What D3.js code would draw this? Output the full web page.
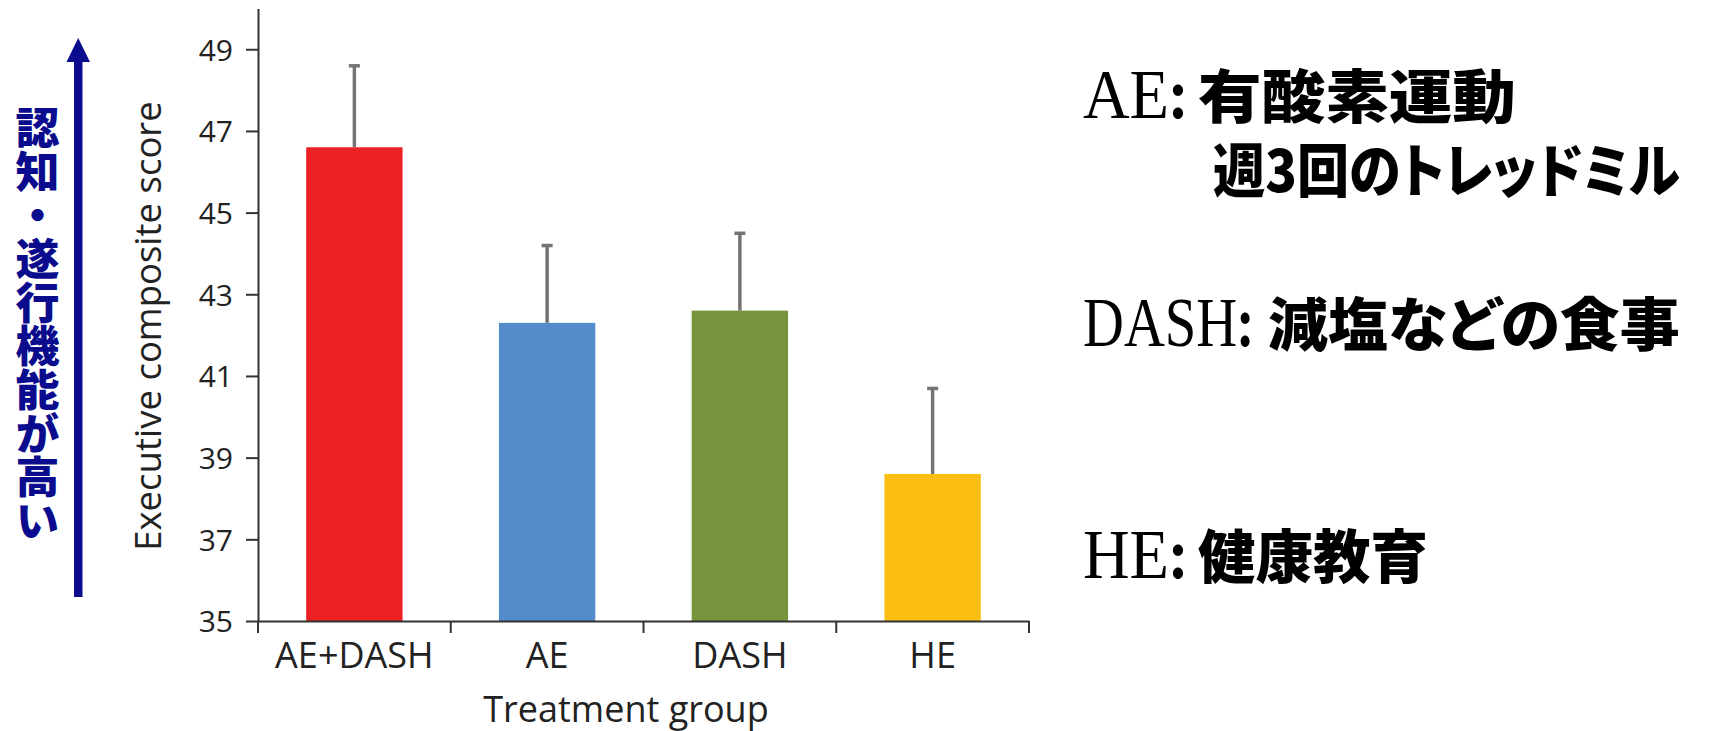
<!DOCTYPE html>
<html>
<head>
<meta charset="utf-8">
<script src="https://cdn.jsdelivr.net/npm/d3@7"></script>
<style>
  html, body { margin: 0; padding: 0; background: #fff; }
  svg { display: block; }
</style>
</head>
<body>
<svg id="chart" width="1716" height="731"></svg>
<script>
// ---- data ----
const categories = ["AE+DASH", "AE", "DASH", "HE"];
const meanScores = [46.6, 42.3, 42.6, 38.6];
const upperErrors = [48.6, 44.2, 44.5, 40.7];
const barColors = ["#EC2126", "#568BCB", "#78943C", "#FBBE13"];
const yTickValues = [35, 37, 39, 41, 43, 45, 47, 49];
const yDomain = [35, 50];
const yTitle = "Executive composite score";
const xTitle = "Treatment group";
const sideLabel = "認知・遂行機能が高い";
const noteLatin = ["AE", "DASH", "HE"];
const noteJapanese = ["有酸素運動", "減塩などの食事", "健康教育"];
const noteSecondLine = "週3回のトレッドミル";

// ---- layout ----
const svg = d3.select("#chart");
const plotLeft = 258, plotRight = 1029, plotBottom = 621, unitPx = 40.84;
const axisFont = "'Open Sans', 'Noto Sans', sans-serif";
const jaFont = "'Noto Sans CJK JP', sans-serif";
const latinFont = "'Liberation Serif', 'DejaVu Serif', serif";
const navy = "#0b0b8e";

const x = d3.scaleBand().domain(categories).range([plotLeft, plotRight])
  .paddingInner(0.5).paddingOuter(0.25);
const y = d3.scaleLinear().domain(yDomain)
  .range([plotBottom, plotBottom - (yDomain[1] - yDomain[0]) * unitPx]);

const rows = categories.map((c, i) => ({ c, m: meanScores[i], e: upperErrors[i], col: barColors[i] }));

// bars
svg.append("g").selectAll("rect").data(rows).join("rect")
  .attr("x", d => x(d.c)).attr("width", x.bandwidth())
  .attr("y", d => y(d.m)).attr("height", d => y(yDomain[0]) - y(d.m))
  .attr("fill", d => d.col);

// error bars (upper only)
const eg = svg.append("g");
eg.selectAll("line").data(rows).join("line")
  .attr("x1", d => x(d.c) + x.bandwidth() / 2).attr("x2", d => x(d.c) + x.bandwidth() / 2)
  .attr("y1", d => y(d.m)).attr("y2", d => y(d.e))
  .attr("stroke", "#747474").attr("stroke-width", 3.5);
eg.selectAll("rect").data(rows).join("rect")
  .attr("x", d => x(d.c) + x.bandwidth() / 2 - 5.5).attr("width", 11)
  .attr("y", d => y(d.e) - 1.5).attr("height", 3.5)
  .attr("fill", "#747474");

// y axis
const yAxis = svg.append("g").attr("transform", `translate(${plotLeft},0)`)
  .call(d3.axisLeft(y).tickValues(yTickValues).tickSize(12).tickSizeOuter(0).tickPadding(13));
yAxis.select(".domain").attr("stroke", "#333").attr("stroke-width", 2);
yAxis.selectAll(".tick line").attr("stroke", "#333").attr("stroke-width", 2);
yAxis.selectAll(".tick text").attr("font-family", axisFont).attr("font-size", 30)
  .attr("fill", "#222").attr("dy", "0.36em");

// x axis: labels at band centres
const xAxis = svg.append("g").attr("transform", `translate(0,${plotBottom})`)
  .call(d3.axisBottom(x).tickSize(0).tickPadding(21).tickSizeOuter(0));
xAxis.select(".domain").attr("stroke", "#333").attr("stroke-width", 2);
xAxis.selectAll(".tick text").attr("font-family", axisFont).attr("font-size", 36).attr("fill", "#222");
// tick marks at band boundaries
const bounds = d3.range(categories.length + 1).map(i => plotLeft + i * x.step());
xAxis.append("g").selectAll("line").data(bounds).join("line")
  .attr("x1", d => d).attr("x2", d => d).attr("y1", 0).attr("y2", 12)
  .attr("stroke", "#333").attr("stroke-width", 2);

// axis titles
svg.append("text").attr("transform", `translate(161,326) rotate(-90)`)
  .attr("text-anchor", "middle").attr("font-family", axisFont).attr("font-size", 36.5)
  .attr("fill", "#222").text(yTitle);
svg.append("text").attr("x", 626).attr("y", 722)
  .attr("text-anchor", "middle").attr("font-family", axisFont).attr("font-size", 36)
  .attr("fill", "#222").text(xTitle);

// left arrow + vertical label
svg.append("rect").attr("x", 74).attr("y", 60).attr("width", 8.5).attr("height", 537).attr("fill", navy);
svg.append("path").attr("d", "M78.2,38 L90,62 L66.5,62 Z").attr("fill", navy);
svg.append("text")
  .attr("x", 37.5).attr("y", 106)
  .style("writing-mode", "vertical-rl")
  .attr("font-family", jaFont).attr("font-weight", 900).attr("font-size", 44)
  .attr("textLength", 436).attr("lengthAdjust", "spacingAndGlyphs")
  .attr("fill", navy).text(sideLabel);

// right-side notes: each piece is fitted horizontally to its width via a scale transform
function fitText(sel, x0, base, width) {
  const natural = sel.node().getComputedTextLength();
  sel.attr("transform", `translate(${x0},${base}) scale(${width / natural},1)`);
}
function latin(t, x0, base, width) {
  const s = svg.append("text").attr("x", 0).attr("y", 0)
    .attr("font-family", latinFont).attr("font-size", 70).attr("fill", "#000");
  s.append("tspan").text(t);
  s.append("tspan").attr("font-weight", 700).attr("font-family", jaFont).attr("font-size", 60).text(":");
  fitText(s, x0, base, width);
}
function ja(t, x0, base, width) {
  const s = svg.append("text").attr("x", 0).attr("y", 0)
    .attr("font-family", jaFont).attr("font-weight", 900).attr("font-size", 58)
    .style("font-feature-settings", "'palt'").attr("fill", "#000").text(t);
  fitText(s, x0, base, width);
}
latin(noteLatin[0], 1083, 118, 104);
ja(noteJapanese[0], 1198, 118, 318);
ja(noteSecondLine, 1213, 192, 467);
latin(noteLatin[1], 1083, 346, 170);
ja(noteJapanese[1], 1268, 346, 412);
latin(noteLatin[2], 1083, 578, 104);
ja(noteJapanese[2], 1198, 578, 230);
</script>
</body>
</html>
